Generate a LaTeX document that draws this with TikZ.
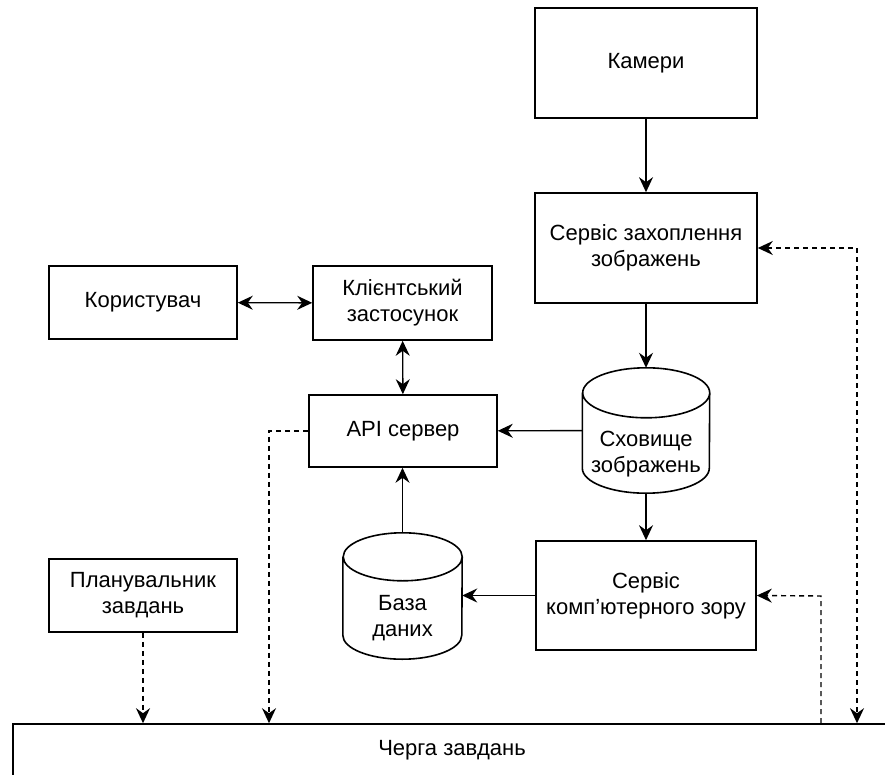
\documentclass[tikz,border=0pt]{standalone}
\usepackage{fontspec}
\setmainfont{Liberation Sans}
\usetikzlibrary{positioning}
\usetikzlibrary{arrows.meta}

\tikzset{
	txt/.style = {font=\fontsize{22}{26}\selectfont, align=center},
	block/.style = {txt, draw, line width=1.6pt, inner sep=0pt},
	dbspace/.style = {inner sep=0pt},
	tip/.tip = {Stealth[length=15pt, width=14pt, inset=5pt]},
	link/.style = {line width=1.4pt, -tip},
	dlink/.style = {link, dash pattern=on 5pt off 4pt},
}

% outline of a storage cylinder round a named node
\newcommand{\drawdb}[3]{
	\draw[line width=1.6pt] ([yshift=-#3]#1.north west) -- ([yshift=#3]#1.south west)
		arc[start angle=180, end angle=360, x radius=#2, y radius=#3]
		-- ([yshift=-#3]#1.north east)
		arc[start angle=0, end angle=360, x radius=#2, y radius=#3];
}

\begin{document}
\begin{tikzpicture}

	\useasboundingbox (0pt,0pt) rectangle (885pt,-775pt);

	%Blocks
	\node[block, minimum width=222pt, minimum height=110pt] (cams) at (646pt,-63pt) {Камери};

	\node[block, minimum width=222pt, minimum height=110pt] (capture) at (646pt,-248pt) {Сервіс захоплення\\зображень};

	\node[block, minimum width=188pt, minimum height=73pt] (user) at (143pt,-302.5pt) {Користувач};

	\node[block, minimum width=179pt, minimum height=74pt] (client) at (402.5pt,-303pt) {Клієнтський\\застосунок};

	\node[block, minimum width=188pt, minimum height=72pt] (api) at (403pt,-431pt) {API сервер};

	\node[dbspace, minimum width=127pt, minimum height=125pt,
		label={[txt, yshift=-24pt]center:Сховище\\зображень}] (store) at (646pt,-430.5pt) {};

	\node[block, minimum width=220pt, minimum height=109pt] (vision) at (646pt,-595.5pt) {Сервіс\\комп’ютерного зору};

	\node[dbspace, minimum width=119pt, minimum height=126pt,
		label={[txt, yshift=-22pt]center:База\\даних}] (db) at (402.5pt,-596pt) {};

	\node[block, minimum width=188pt, minimum height=73pt] (planner) at (143pt,-595.5pt) {Планувальник\\завдань};

	\node[block, minimum width=878pt, minimum height=52pt] (queue) at (452pt,-750pt) {Черга завдань};

	%Cylinders
	\drawdb{store}{63.5pt}{25pt}
	\drawdb{db}{59.5pt}{24pt}

	%Turning points of the dashed lines
	\coordinate (apiturn) at (269pt,-431pt);
	\coordinate (visturn) at (821pt,-596pt);
	\coordinate (capturn) at (857pt,-248pt);

	%Connectors
	\draw[link] (cams) -- (capture);
	\draw[link] (capture) -- (store.north);
	\draw[link] (store.south) -- (vision);
	\draw[link] (store) -- (api);
	\draw[link] (vision.west) -- (vision.west -| db.east);
	\draw[link] (db.north) -- (db.north |- api.south);
	\draw[link, tip-tip] (client) -- (api);
	\draw[link, tip-tip] (user) -- (client);

	\draw[dlink] (api.west) -- (apiturn) -- (apiturn |- queue.north);
	\draw[dlink] (planner) -- (planner |- queue.north);
	\draw[dlink] (visturn |- queue.north) -- (visturn) -- (vision.east);
	\draw[dlink, tip-tip] (capture.east) -- (capturn) -- (capturn |- queue.north);

\end{tikzpicture}
\end{document}
